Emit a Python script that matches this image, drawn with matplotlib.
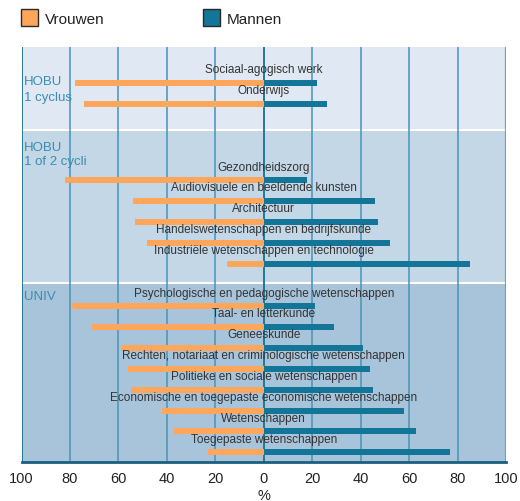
import matplotlib.pyplot as plt
import numpy as np

plt.rcParams['font.family'] = ['Liberation Sans', 'DejaVu Sans']

# data: share of women / men per study field (%)
groups = ['HOBU\n1 cyclus', 'HOBU\n1 of 2 cycli', 'UNIV']
fields = [
    ['Sociaal-agogisch werk', 'Onderwijs'],
    ['Gezondheidszorg', 'Audiovisuele en beeldende kunsten', 'Architectuur',
     'Handelswetenschappen en bedrijfskunde',
     'Industriële wetenschappen en technologie'],
    ['Psychologische en pedagogische wetenschappen', 'Taal- en letterkunde',
     'Geneeskunde', 'Rechten, notariaat en criminologische wetenschappen',
     'Politieke en sociale wetenschappen',
     'Economische en toegepaste economische wetenschappen',
     'Wetenschappen', 'Toegepaste wetenschappen'],
]
vrouwen = [
    [78, 74],
    [82, 54, 53, 48, 15],
    [79, 71, 59, 56, 55, 42, 37, 23],
]
mannen = [
    [22, 26],
    [18, 46, 47, 52, 85],
    [21, 29, 41, 44, 45, 58, 63, 77],
]
ticks = np.arange(-100, 101, 20)

ORANGE = '#ffa65a'
BLUE = '#137597'
panel_cols = ['#e0e8f3', '#c3d7e6', '#a8c4da']
# layout in pixel units (y grows downward)
panel_spans = [(47, 129.8), (129.8, 282.5), (282.5, 462)]
label_offset = [29, 12, 9]
label_spacing = [1.4, 1.2, 1.2]
first_bar = [83, 180, 306]
step = 20.9

W, H = 520, 501
fig = plt.figure(figsize=(W / 100, H / 100), dpi=100)
ax = fig.add_axes([21.5 / W, 1 - 462 / H, (506 - 21.5) / W, (462 - 47) / H])
ax.set_xlim(-100, 100)
ax.set_ylim(462, 47)

for (y0, y1), c in zip(panel_spans, panel_cols):
    ax.axhspan(y0, y1, color=c, lw=0, zorder=0)
for y0, _ in panel_spans[1:]:
    ax.axhline(y0, color='white', lw=1.5, zorder=1)

for t in ticks:
    if t == -100 or t == 0:
        ax.axvline(t, color='#1a6f8f', lw=1.3, zorder=2)
    elif t == 100:
        ax.axvline(t, color='#62a8c8', lw=1.6, zorder=2)
    else:
        ax.axvline(t, color='#4a93b6', lw=1.1, zorder=2)

for g in range(len(groups)):
    ys = first_bar[g] + step * np.arange(len(fields[g]))
    ax.barh(ys, -np.array(vrouwen[g]), height=6, color=ORANGE, lw=0, zorder=3)
    ax.barh(ys, mannen[g], height=6, color=BLUE, lw=0, zorder=3)
    for y, name in zip(ys, fields[g]):
        ax.text(0, y - 12.5, name, ha='center', va='center', fontsize=8.5,
                color='#333333', zorder=4)
    ax.text(-99, panel_spans[g][0] + label_offset[g], groups[g], ha='left',
            va='top', fontsize=9.5, color='#3a8db0',
            linespacing=label_spacing[g], zorder=4)

for s in ['top', 'left', 'right']:
    ax.spines[s].set_visible(False)
ax.spines['bottom'].set_color('#1a5f7f')
ax.spines['bottom'].set_linewidth(2)
ax.set_yticks([])
ax.set_xticks(ticks)
ax.set_xticklabels([str(abs(t)) for t in ticks], fontsize=10.5, color='#222222')
ax.tick_params(axis='x', length=0, pad=7)
ax.set_xlabel('%', fontsize=10.5, color='#222222', labelpad=2)

# legend
for x, c, lab in [(21, ORANGE, 'Vrouwen'), (203, BLUE, 'Mannen')]:
    fig.patches.append(plt.Rectangle((x / W, 1 - 26 / H), 17 / W, 17 / H,
                                     transform=fig.transFigure, facecolor=c,
                                     edgecolor='#2a2a2a', lw=1))
    fig.text((x + 24) / W, 1 - 20.5 / H, lab, fontsize=11, va='center',
             color='#222222')

fig.savefig('out.png', dpi=100)
